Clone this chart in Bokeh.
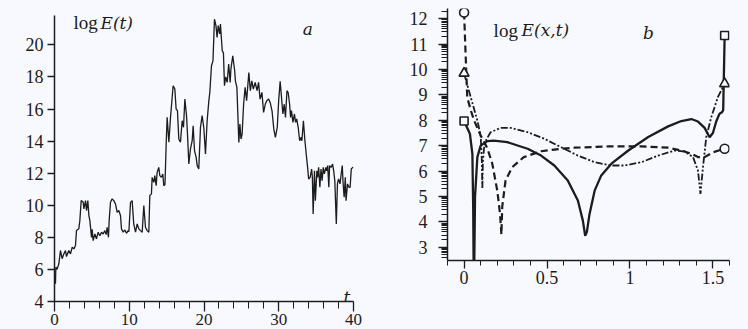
from bokeh.plotting import figure
from bokeh.models import Range1d, FixedTicker, Label
from bokeh.embed import file_html
from bokeh.resources import INLINE
import math

# ---------------- data: panel a ----------------
t_a = [
    0.13, 0.18, 0.35, 0.58, 0.80, 1.02, 1.25, 1.47, 1.60, 1.92,
    2.14, 2.37, 2.60, 2.81, 2.94, 3.25, 3.39, 3.57, 3.84, 3.93,
    4.15, 4.28, 4.46, 4.60, 4.73, 4.95, 5.04, 5.17, 5.40, 5.62,
    5.84, 6.06, 6.29, 6.51, 6.73, 6.91, 7.04, 7.22, 7.31, 7.49,
    7.71, 7.93, 8.16, 8.38, 8.60, 8.83, 8.96, 9.19, 9.41, 9.63,
    9.85, 9.95, 10.17, 10.39, 10.60, 10.84, 11.06, 11.28, 11.50, 11.73,
    11.95, 12.17, 12.40, 12.62, 12.75, 12.97, 13.06, 13.28, 13.42, 13.60,
    13.73, 13.95, 14.09, 14.31, 14.49, 14.62, 14.78, 14.94, 15.07, 15.30,
    15.52, 15.65, 15.87, 16.10, 16.27, 16.45, 16.63, 16.85, 17.08, 17.26,
    17.44, 17.66, 17.79, 17.97, 18.19, 18.42, 18.55, 18.73, 18.95, 19.09,
    19.30, 19.53, 19.75, 19.98, 20.20, 20.42, 20.65, 20.78, 21.00, 21.20,
    21.40, 21.60, 21.75, 21.90, 22.10, 22.20, 22.44, 22.60, 22.74, 22.90,
    23.10, 23.30, 23.50, 23.60, 23.85, 24.10, 24.20, 24.40, 24.66, 24.80,
    24.95, 25.10, 25.30, 25.50, 25.70, 26.00, 26.20, 26.40, 26.60, 26.85,
    27.10, 27.30, 27.50, 27.75, 27.97, 28.20, 28.40, 28.65, 28.85, 29.10,
    29.34, 29.55, 29.80, 30.00, 30.19, 30.37, 30.55, 30.73, 30.90, 31.10,
    31.26, 31.45, 31.58, 31.70, 31.90, 32.10, 32.25, 32.40, 32.60, 32.80,
    33.00, 33.10, 33.30, 33.50, 33.70, 33.86, 34.00, 34.20, 34.40, 34.50,
    34.60, 34.78, 34.90, 35.10, 35.20, 35.34, 35.50, 35.65, 35.80, 35.95,
    36.10, 36.30, 36.40, 36.55, 36.70, 36.80, 37.00, 37.20, 37.35, 37.50,
    37.70, 37.85, 38.00, 38.20, 38.35, 38.50, 38.60, 38.75, 38.90, 39.00,
    39.20, 39.40, 39.55, 39.70, 39.90, 40.00,
]
logE_t = [
    5.10, 6.14, 6.00, 6.35, 7.18, 6.67, 6.97, 7.18, 6.80, 7.18,
    6.97, 7.38, 7.28, 7.49, 8.42, 8.53, 9.04, 10.29, 10.19, 9.77,
    10.29, 9.67, 10.29, 9.36, 9.04, 8.00, 8.50, 7.79, 8.21, 7.90,
    8.32, 8.10, 8.32, 8.21, 8.42, 8.17, 8.63, 8.00, 9.04, 10.19,
    10.40, 10.29, 10.08, 9.56, 9.67, 9.36, 8.53, 8.32, 8.46, 8.25,
    8.42, 8.35, 10.18, 10.29, 8.84, 8.32, 8.84, 8.53, 8.42, 8.32,
    9.98, 8.63, 8.42, 8.32, 10.60, 10.71, 11.74, 11.43, 11.85, 11.22,
    12.05, 12.36, 11.85, 11.74, 11.95, 11.22, 11.30, 13.82, 15.48, 13.93,
    15.48, 16.20, 17.45, 17.24, 16.00, 15.90, 14.13, 13.93, 15.27, 14.86,
    16.62, 15.59, 14.45, 12.57, 13.51, 14.03, 14.96, 13.41, 12.99, 12.47,
    12.26, 14.86, 15.59, 14.80, 13.19, 15.27, 16.52, 17.04, 18.70, 19.00,
    21.60, 21.20, 20.47, 21.20, 20.68, 21.30, 19.63, 19.50, 17.45, 18.00,
    17.66, 18.80, 17.66, 18.49, 19.32, 18.40, 17.76, 17.35, 13.92, 15.06,
    14.13, 14.44, 16.31, 17.35, 16.52, 18.28, 17.14, 17.76, 17.24, 17.66,
    17.14, 17.66, 16.62, 17.04, 15.79, 16.31, 16.52, 16.62, 16.41, 15.89,
    14.75, 14.23, 14.85, 16.60, 17.72, 16.72, 15.69, 16.30, 15.48, 17.14,
    17.03, 16.31, 15.48, 15.90, 15.17, 15.69, 15.17, 15.38, 14.86, 14.02,
    14.24, 14.02, 15.27, 14.02, 13.09, 12.36, 11.64, 11.74, 12.26, 11.74,
    9.46, 12.15, 10.29, 12.15, 11.74, 12.36, 11.12, 12.26, 11.53, 12.36,
    11.95, 12.36, 12.15, 12.47, 11.12, 12.47, 12.36, 12.57, 12.15, 11.53,
    8.84, 11.33, 11.64, 11.33, 11.95, 12.47, 11.43, 10.50, 11.74, 10.29,
    11.33, 11.12, 11.12, 12.26, 12.36, 12.36,
]
assert len(t_a) == len(logE_t)

a_xticks = [0, 10, 20, 30, 40]
a_xminor = [2, 4, 6, 8, 12, 14, 16, 18, 22, 24, 26, 28, 32, 34, 36, 38]
a_yticks = [4, 6, 8, 10, 12, 14, 16, 18, 20]

# ---------------- data: panel b ----------------
x_sq = [0, 0.035, 0.05, 0.055, 0.059, 0.066, 0.08, 0.10, 0.14, 0.18,
        0.26, 0.383, 0.464, 0.544, 0.625, 0.686, 0.716, 0.73, 0.74, 0.756,
        0.787, 0.827, 0.888, 0.99, 1.11, 1.23, 1.31, 1.37, 1.41, 1.45,
        1.48, 1.50, 1.52, 1.54, 1.555, 1.562, 1.5708]
E_sq = [7.97, 7.47, 6.68, 4.5, 1.0, 5.0, 6.55, 7.0, 7.18, 7.2,
        7.14, 6.88, 6.61, 6.22, 5.63, 4.84, 4.05, 3.45, 3.6, 4.3,
        5.23, 5.83, 6.29, 6.81, 7.34, 7.76, 7.97, 8.05, 7.95, 7.7,
        7.33, 7.5, 7.95, 8.26, 8.32, 8.4, 11.34]

x_ci = [0, 0.008, 0.019, 0.04, 0.06, 0.10, 0.14, 0.17, 0.20, 0.217,
        0.225, 0.23, 0.25, 0.29, 0.36, 0.464, 0.585, 0.665, 0.868, 1.07,
        1.23, 1.31, 1.37, 1.41, 1.45, 1.50, 1.5708]
E_ci = [12.24, 10.8, 8.9, 8.4, 8.0, 7.4, 6.9, 6.29, 5.23, 4.3,
        3.5, 4.6, 5.63, 6.15, 6.55, 6.78, 6.88, 6.92, 6.97, 6.97,
        6.92, 6.81, 6.68, 6.55, 6.55, 6.74, 6.88]

x_tr = [0, 0.04, 0.08, 0.10, 0.107, 0.11, 0.113, 0.12, 0.135, 0.16,
        0.22, 0.28, 0.383, 0.484, 0.585, 0.686, 0.787, 0.888, 0.968, 1.07,
        1.17, 1.27, 1.33, 1.38, 1.41, 1.425, 1.44, 1.46, 1.49, 1.53,
        1.5708]
E_tr = [9.85, 8.91, 7.99, 7.4, 6.4, 5.3, 6.3, 6.9, 7.25, 7.53,
        7.7, 7.7, 7.53, 7.27, 6.94, 6.61, 6.35, 6.22, 6.22, 6.35,
        6.61, 6.81, 6.77, 6.55, 6.02, 5.1, 6.15, 7.34, 8.12, 8.91,
        9.44]

b_xticks = [0, 0.5, 1, 1.5]
b_xlabels = {0: "0", 0.5: "0.5", 1: "1", 1.5: "1.5"}
b_xminor = [-0.1, 0.1, 0.2, 0.3, 0.4, 0.6, 0.7, 0.8, 0.9,
            1.1, 1.2, 1.3, 1.4, 1.6]
b_yticks = [3, 4, 5, 6, 7, 8, 9, 10, 11, 12]

# ---------------- styling ----------------
BG = "#f8f8ff"
INK = "#1c1c1c"
TICK_FONT = "Liberation Serif"
UP_FONT = "Liberation Serif"
IT_FONT = "DejaVu Serif"


def style_axis(ax, font_size, tick_out, minor_out, standoff):
    ax.axis_line_color = INK
    ax.axis_line_width = 1.5
    ax.major_tick_line_color = INK
    ax.major_tick_line_width = 1.3
    ax.minor_tick_line_color = INK
    ax.minor_tick_line_width = 1.0
    ax.major_tick_in = 0
    ax.major_tick_out = tick_out
    ax.minor_tick_in = 0
    ax.minor_tick_out = minor_out
    ax.major_label_text_font = TICK_FONT
    ax.major_label_text_font_size = font_size
    ax.major_label_text_color = INK
    ax.major_label_standoff = standoff
    try:
        ax.major_label_background_fill_color = "white"
    except Exception:
        pass


def base_fig(width, height, xr, yr, ml, mr, mt, mb, left, top):
    p = figure(width=width, height=height, x_range=xr, y_range=yr,
               output_backend="svg", toolbar_location=None,
               min_border_left=ml, min_border_right=mr,
               min_border_top=mt, min_border_bottom=mb)
    p.background_fill_color = BG
    p.border_fill_color = BG
    p.outline_line_color = None
    p.xgrid.visible = False
    p.ygrid.visible = False
    p.styles = {"position": "absolute", "left": "%dpx" % left, "top": "%dpx" % top}
    return p


def add_label(p, x, y, text, italic=False, x_offset=0):
    p.add_layout(Label(x=x, y=y, text=text, x_offset=x_offset,
                       text_font=IT_FONT if italic else UP_FONT,
                       text_font_size="17px" if italic else "19px",
                       text_font_style="italic" if italic else "normal",
                       text_color=INK, text_baseline="alphabetic",
                       text_align="left"))


# ---------------- panel a ----------------
pa = base_fig(366, 321, Range1d(0, 40), Range1d(4, 21.83), 46, 21, 7, 28, 8, 8)
pa.line(t_a, logE_t, line_color=INK, line_width=1.3)
style_axis(pa.xaxis[0], "17px", 10, 7, 2)
style_axis(pa.yaxis[0], "18px", 7, 0, 4)
pa.xaxis[0].ticker = FixedTicker(ticks=a_xticks, minor_ticks=a_xminor)
pa.yaxis[0].ticker = FixedTicker(ticks=a_yticks, minor_ticks=[])

add_label(pa, 2.54, 21.39, "log")
add_label(pa, 2.54, 21.39, "E(t)", italic=True, x_offset=27)
add_label(pa, 33.2, 21.0, "a", italic=True)
add_label(pa, 38.66, 4.31, "t", italic=True)

# ---------------- panel b ----------------
pb = base_fig(366, 313, Range1d(-0.1, 1.6), Range1d(2.48, 12.4), 73, 11, 0, 61, 374, 8)
pb.line(x_sq, E_sq, line_color=INK, line_width=2.3)
pb.line(x_ci, E_ci, line_color=INK, line_width=2.2, line_dash="7 4")
pb.line(x_tr, E_tr, line_color=INK, line_width=1.8, line_dash="7 2 2 2 2 2")

pb.scatter([x_sq[0], x_sq[-1]], [E_sq[0], E_sq[-1]], marker="square", size=8,
           fill_color=BG, line_color=INK, line_width=1.6)
pb.scatter([x_ci[0], x_ci[-1]], [E_ci[0], E_ci[-1]], marker="circle", size=9,
           fill_color=BG, line_color=INK, line_width=1.6)
pb.scatter([x_tr[0], x_tr[-1]], [E_tr[0], E_tr[-1]], marker="triangle", size=10,
           fill_color=BG, line_color=INK, line_width=1.6)

style_axis(pb.xaxis[0], "18px", 8, 5, 2)
style_axis(pb.yaxis[0], "18px", 9, 6, 11)
pb.xaxis[0].ticker = FixedTicker(ticks=b_xticks, minor_ticks=b_xminor)
pb.xaxis[0].major_label_overrides = b_xlabels
y_minor = [n + math.log10(k) for n in range(2, 13) for k in range(2, 10)
           if 2.48 < n + math.log10(k) < 12.4]
pb.yaxis[0].ticker = FixedTicker(ticks=b_yticks, minor_ticks=y_minor)

add_label(pb, 0.178, 11.535, "log")
add_label(pb, 0.178, 11.535, "E(x,t)", italic=True, x_offset=28)
add_label(pb, 1.0785, 11.417, "b", italic=True)
add_label(pb, 1.598, 2.756, "x", italic=True)

html = file_html([pa, pb], INLINE)
css = "<style>html,body{background:%s;overflow:hidden;}</style>" % BG
html = html.replace("<head>", "<head>" + css, 1)
open("out.html", "w").write(html)
